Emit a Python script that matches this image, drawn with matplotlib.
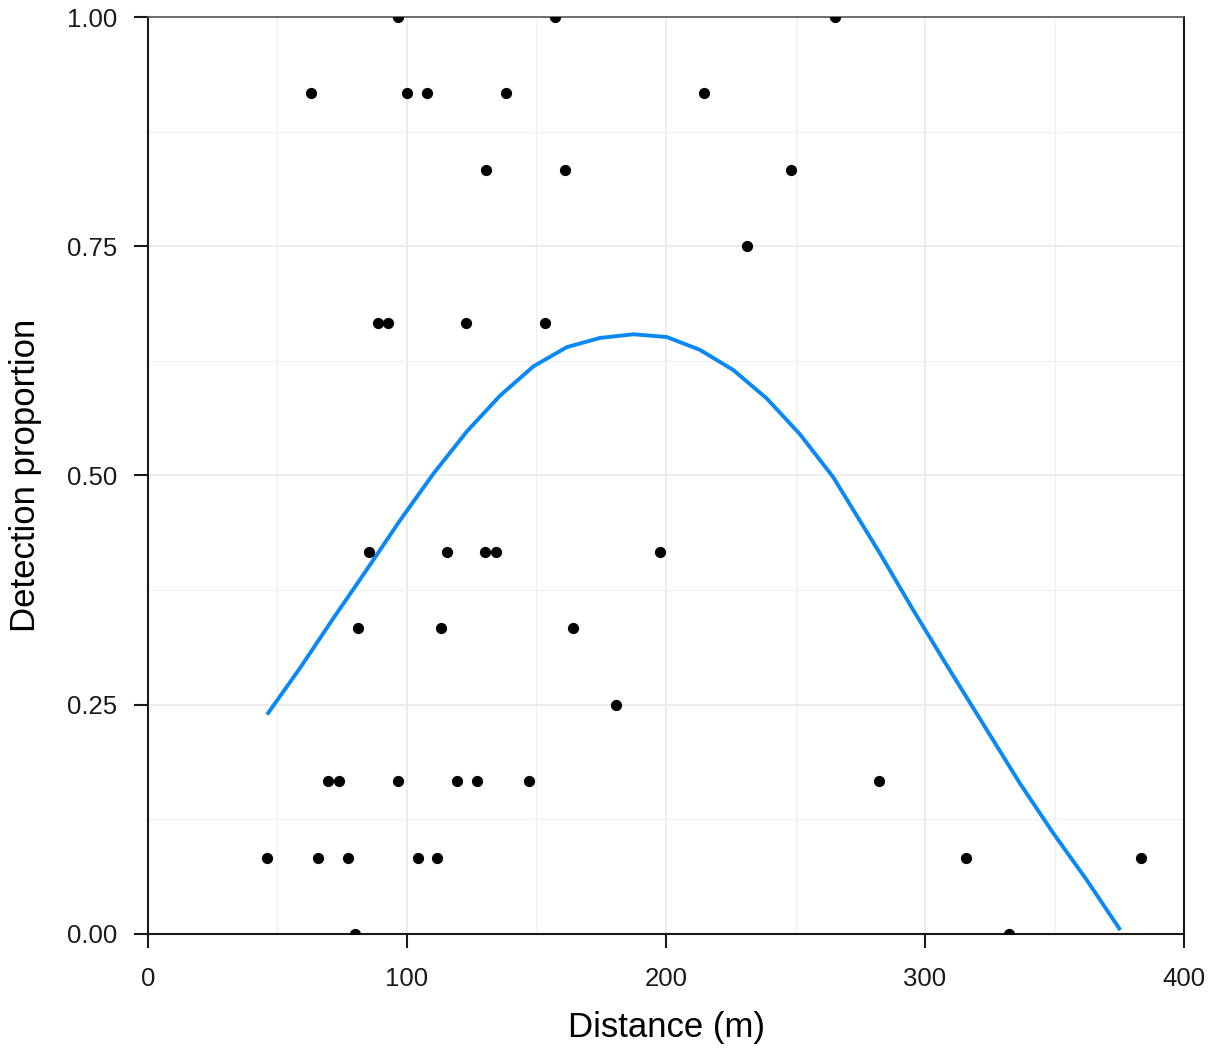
import matplotlib.pyplot as plt
import numpy as np
from matplotlib.ticker import MultipleLocator

plt.rcParams['font.family'] = ['Liberation Sans', 'DejaVu Sans']

# observed detection proportions (distance in m)
dist = [96.5, 157.1, 265.3,
        62.9, 100.0, 107.7, 138.2, 214.7,
        130.5, 161.0, 248.3,
        231.3,
        88.8, 92.7, 122.8, 153.3,
        85.3, 115.4, 130.1, 134.4, 197.7,
        81.1, 113.1, 164.1,
        180.7,
        69.5, 73.7, 96.5, 119.3, 127.0, 147.1, 282.2,
        45.9, 65.6, 77.2, 104.2, 111.6, 315.8, 383.4,
        79.9, 332.4]
prop = [1.0] * 3 + [11/12] * 5 + [10/12] * 3 + [0.75] + [8/12] * 4 + \
       [5/12] * 5 + [4/12] * 3 + [0.25] + [2/12] * 7 + [1/12] * 7 + [0.0] * 2

# fitted curve
fit_x = [46.4, 58.7, 71.5, 84.4, 97.3, 110.2, 123.1, 135.9, 148.8, 161.7, 174.5,
         187.4, 200.3, 213.1, 226.0, 238.9, 251.7, 264.6, 282.6, 295.5,
         308.4, 317.4, 336.7, 349.5, 362.4, 375.0]
fit_y = [0.241, 0.290, 0.344, 0.397, 0.451, 0.502, 0.548, 0.587, 0.619, 0.640, 0.650,
         0.654, 0.651, 0.637, 0.615, 0.584, 0.545, 0.498, 0.415, 0.353,
         0.293, 0.252, 0.164, 0.110, 0.059, 0.006]

fig = plt.figure(figsize=(12.17, 10.5), dpi=100)
ax = fig.add_axes([0.1216, 0.1105, 0.8513, 0.8733])

ax.set_xlim(0, 400)
ax.set_ylim(0, 1)
ax.xaxis.set_major_locator(MultipleLocator(100))
ax.xaxis.set_minor_locator(MultipleLocator(50))
ax.yaxis.set_major_locator(MultipleLocator(0.25))
ax.yaxis.set_minor_locator(MultipleLocator(0.125))
ax.set_yticklabels(['%.2f' % v for v in ax.get_yticks()])

ax.grid(which='major', color='#ebebeb', linewidth=1.3, zorder=0)
ax.grid(which='minor', color='#f0f0f0', linewidth=0.9, zorder=0)
ax.set_axisbelow(True)

ax.scatter(dist, prop, s=50, color='black', zorder=3)
ax.plot(fit_x, fit_y, color='#0a88f5', linewidth=2.8, zorder=2)

for s in ['left', 'bottom', 'right']:
    ax.spines[s].set_linewidth(1.5)
    ax.spines[s].set_color('#1a1a1a')
ax.spines['top'].set_linewidth(1.2)
ax.spines['top'].set_color('#555555')

ax.tick_params(which='major', direction='out', length=10, width=1.5, color='#1a1a1a',
               labelsize=18.5, labelcolor='#1a1a1a')
ax.tick_params(axis='y', pad=12)
ax.tick_params(axis='x', pad=14)
ax.tick_params(which='minor', length=0)

ax.set_xlabel('Distance (m)', fontsize=25, labelpad=14)
ax.set_ylabel('Detection proportion', fontsize=25, labelpad=18)

plt.savefig('out.png', dpi=100)
